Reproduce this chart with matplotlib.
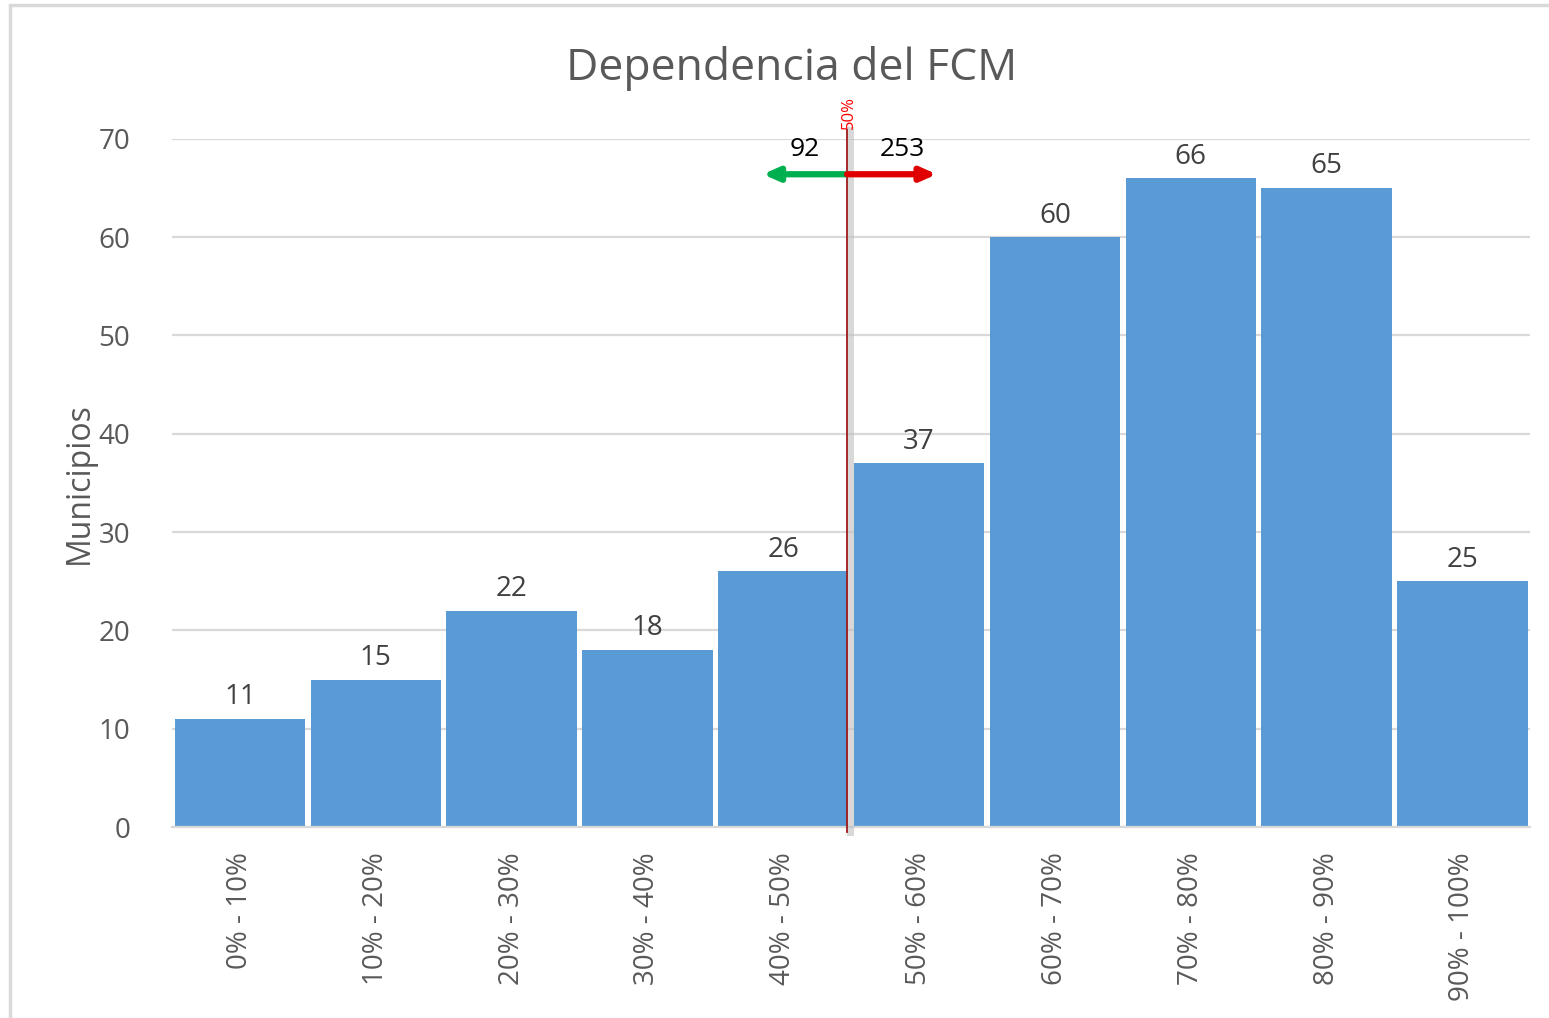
import matplotlib.pyplot as plt
import matplotlib.patches as mpatches
import numpy as np

categories = ["0% - 10%", "10% - 20%", "20% - 30%", "30% - 40%", "40% - 50%",
              "50% - 60%", "60% - 70%", "70% - 80%", "80% - 90%", "90% - 100%"]
municipios = [11, 15, 22, 18, 26, 37, 60, 66, 65, 25]
count_below = 92
count_above = 253
split_pos = 4.47  # 50% boundary, between the 5th and 6th bar

plt.rcParams['font.family'] = ['Open Sans', 'DejaVu Sans']
grey = '#595959'

fig = plt.figure(figsize=(15.49, 10.18), dpi=100)
ax = fig.add_axes([0.111, 0.1876, 0.877, 0.676])

# outer chart frame
fig.patches.append(mpatches.Rectangle((10 / 1549, -0.01), 1.1, 1 - 5 / 1018 + 0.01,
                                      transform=fig.transFigure, fill=False,
                                      edgecolor='#D9D9D9', linewidth=2.5, zorder=0))

x = np.arange(len(categories))
bars = ax.bar(x, municipios, width=0.96, color='#5B9BD5', zorder=2)
for xi, v in zip(x, municipios):
    ax.text(xi, v + 2.2, str(v), ha='center', va='center', fontsize=20, color='#404040')

ax.set_xlim(-0.5, len(categories) - 0.5)
ax.set_ylim(0, 70)
ax.set_yticks(range(0, 71, 10))
ax.set_xticks(x)
ax.set_xticklabels(categories, rotation=90, fontsize=20, color=grey)
ax.tick_params(axis='y', labelsize=20, labelcolor=grey, length=0, pad=30)
ax.tick_params(axis='x', length=0, pad=18)
ax.grid(axis='y', color='#D9D9D9', linewidth=1.6, zorder=0)
for s in ['top', 'right', 'left']:
    ax.spines[s].set_visible(False)
ax.spines['bottom'].set_color('#D9D9D9')
ax.spines['bottom'].set_linewidth(1.6)
ax.set_ylabel("Municipios", fontsize=23, color=grey, labelpad=2)

fig.text(0.511, 0.933, "Dependencia del FCM", ha='center', va='center',
         fontsize=32, color=grey)

# 50% split marker
ax.plot([split_pos + 0.02, split_pos + 0.02], [-0.5, 70.9], color='#BFBFBF', linewidth=5,
        alpha=0.6, zorder=3, clip_on=False)
ax.plot([split_pos, split_pos], [-0.5, 70.9], color='#9E1B1B', linewidth=1.3,
        zorder=4, clip_on=False)
ax.text(split_pos + 0.01, 71.0, "50%", rotation=90, ha='center', va='bottom',
        fontsize=12, color='#FF0000', clip_on=False)

ax.annotate("", xy=(3.85, 66.4), xytext=(split_pos, 66.4),
            arrowprops=dict(arrowstyle='-|>,head_length=0.9,head_width=0.4',
                            color='#00B050', linewidth=4.5, shrinkA=0, shrinkB=0),
            zorder=5)
ax.annotate("", xy=(5.13, 66.4), xytext=(split_pos, 66.4),
            arrowprops=dict(arrowstyle='-|>,head_length=0.9,head_width=0.4',
                            color='#E00000', linewidth=4.5, shrinkA=0, shrinkB=0),
            zorder=5)
ax.text(4.16, 68.9, str(count_below), ha='center', va='center', fontsize=19, color='black')
ax.text(4.88, 68.9, str(count_above), ha='center', va='center', fontsize=19, color='black')

fig.savefig("out.png", dpi=100)
